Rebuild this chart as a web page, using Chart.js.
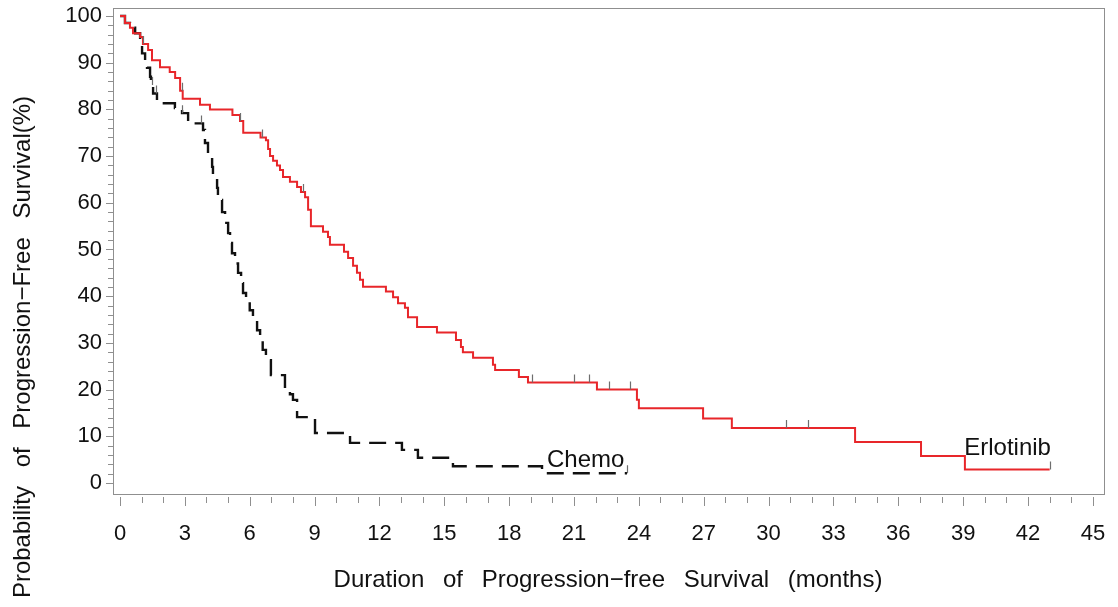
<!DOCTYPE html>
<html>
<head>
<meta charset="utf-8">
<script src="https://cdn.jsdelivr.net/npm/chart.js@4.4.1/dist/chart.umd.min.js"></script>
<style>
  html, body { margin: 0; padding: 0; background: #fff; }
  .wrap { width: 1118px; height: 607px; }
</style>
</head>
<body>
<div class="wrap"><canvas id="km" width="1118" height="607"></canvas></div>
<script>
  // Erlotinib arm: time of each drop (months) and survival (%) after it
  const erlotTimes = [0, 0.23, 0.46, 0.6, 0.93, 1.06, 1.3, 1.48, 1.85, 2.3,
    2.55, 2.78, 2.9, 3.7, 4.16, 5.2, 5.55, 5.7, 6.5, 6.75,
    6.85, 6.94, 7.08, 7.26, 7.4, 7.54, 7.86, 8.19, 8.37, 8.56,
    8.7, 8.83, 9.39, 9.62, 9.71, 10.36, 10.55, 10.78, 10.96, 11.1,
    11.24, 12.3, 12.63, 12.86, 13.18, 13.32, 13.74, 14.66, 15.54, 15.77,
    15.86, 16.33, 17.25, 17.35, 18.45, 18.87, 22.06, 23.91, 24.0, 26.97,
    28.3, 34.0, 37.05, 39.08, 43.0];
  const erlotSurv = [100, 98.5, 97.5, 96.3, 95.5, 94, 92.7, 90.5, 89, 88,
    86.7, 84, 82.3, 81, 80, 78.8, 77.5, 75, 74, 73.4,
    71.5, 70, 69, 68, 67, 65.5, 64.5, 63.4, 62.3, 61.2,
    58.5, 55, 53.8, 52.7, 51, 49.5, 48.2, 46.5, 45, 43.5,
    42, 41, 39.8, 38.5, 37.5, 35.5, 33.4, 32.2, 30.6, 29.1,
    28, 26.8, 25.3, 24.2, 22.7, 21.5, 20, 17.8, 16, 13.8,
    11.8, 8.8, 5.8, 2.9, 2.9];
  const erlotCensor = [1.06, 2.85, 5.55, 6.56, 8.46, 19.05, 20.98, 21.67, 22.6, 23.6, 30.8, 31.8, 43.0];

  // Chemotherapy arm
  const chemoTimes = [0, 0.23, 0.46, 0.7, 0.93, 1.02, 1.16, 1.25, 1.39, 1.43,
    1.53, 1.71, 2.54, 2.87, 3.15, 3.84, 3.93, 4.07, 4.26, 4.3,
    4.49, 4.53, 4.72, 4.86, 5.0, 5.09, 5.18, 5.32, 5.46, 5.6,
    5.69, 5.83, 6.0, 6.15, 6.34, 6.48, 6.6, 6.75, 6.98, 7.63,
    7.86, 8.0, 8.19, 9.02, 10.64, 13.04, 13.78, 15.4, 19.52, 23.45];
  const chemoSurv = [100, 98.5, 97.5, 96.3, 94.2, 92, 90.5, 88.9, 87, 85.2,
    83.4, 81.3, 80.3, 79.2, 77, 75.6, 72.8, 69.8, 67.7, 65.5,
    63.2, 60.6, 58, 55.7, 53.5, 51.4, 49.2, 47, 45, 42.8,
    40.7, 39, 37, 35, 32.7, 30.6, 28.5, 26.3, 23.1, 20.6,
    19, 17.8, 14.1, 10.7, 8.6, 7.1, 5.4, 3.6, 2.1, 2.1];
  const chemoCensor = [1.5, 1.65, 2.87, 3.75, 23.45];

  const xTickLabels = [0, 3, 6, 9, 12, 15, 18, 21, 24, 27, 30, 33, 36, 39, 42, 45];
  const yTickLabels = [0, 10, 20, 30, 40, 50, 60, 70, 80, 90, 100];
  const xTitle = 'Duration of Progression\u2212free Survival (months)';
  const yTitle = 'Probability of Progression\u2212Free Survival(%)';

  const FONT = '"Liberation Sans", Arial, sans-serif';

  const xMinor = [];
  for (let v = 0; v <= 45; v++) xMinor.push(v);
  const yMinor = [];
  for (let v = 0; v <= 100; v += 2) yMinor.push(v);

  function stepPoints(times, surv) {
    return times.map((t, i) => ({ x: t, y: surv[i] }));
  }

  function levelAt(times, surv, t) {
    let v = surv[0];
    for (let i = 0; i < times.length; i++) {
      if (times[i] <= t) v = surv[i];
    }
    return v;
  }

  function spacedText(ctx, text, target, cx, cy) {
    const n = text.split(' ').length - 1;
    ctx.wordSpacing = '0px';
    const w = ctx.measureText(text).width;
    const extra = Math.max(0, Math.min(12, (target - w) / n));
    ctx.wordSpacing = extra + 'px';
    ctx.fillText(text, cx, cy);
    ctx.wordSpacing = '0px';
  }

  const kmExtras = {
    id: 'kmExtras',
    afterDatasetsDraw(chart) {
      const { ctx, chartArea: a, scales: { x, y } } = chart;
      ctx.save();

      // frame round the plot
      ctx.strokeStyle = '#8f8f8f';
      ctx.lineWidth = 1;
      ctx.strokeRect(a.left + 0.5, a.top + 0.5, a.right - a.left - 1, a.bottom - a.top);

      // tick marks
      ctx.beginPath();
      xMinor.forEach(v => {
        const px = Math.round(x.getPixelForValue(v)) + 0.5;
        const len = v % 3 === 0 ? 9 : 6;
        ctx.moveTo(px, a.bottom + 3);
        ctx.lineTo(px, a.bottom + 3 + len);
      });
      yMinor.forEach(v => {
        const py = Math.round(y.getPixelForValue(v)) + 0.5;
        const len = v % 10 === 0 ? 7 : 5;
        ctx.moveTo(a.left, py);
        ctx.lineTo(a.left - len, py);
      });
      ctx.stroke();

      // censor marks
      ctx.strokeStyle = '#6e6e6e';
      ctx.lineWidth = 1.2;
      ctx.beginPath();
      erlotCensor.forEach(t => {
        const px = Math.round(x.getPixelForValue(t)) + 0.5;
        const py = y.getPixelForValue(levelAt(erlotTimes, erlotSurv, t));
        ctx.moveTo(px, py);
        ctx.lineTo(px, py - 8);
      });
      chemoCensor.forEach(t => {
        const px = Math.round(x.getPixelForValue(t)) + 0.5;
        const py = y.getPixelForValue(levelAt(chemoTimes, chemoSurv, t));
        ctx.moveTo(px, py);
        ctx.lineTo(px, py - 8);
      });
      ctx.stroke();

      // curve labels
      ctx.fillStyle = '#111';
      ctx.font = '24px ' + FONT;
      ctx.textAlign = 'left';
      ctx.textBaseline = 'alphabetic';
      ctx.fillText('Chemo', x.getPixelForValue(19.75), y.getPixelForValue(3.4));
      ctx.fillText('Erlotinib', x.getPixelForValue(39.05), y.getPixelForValue(6.0));

      // axis titles
      ctx.font = '24px ' + FONT;
      ctx.textAlign = 'center';
      ctx.textBaseline = 'middle';
      spacedText(ctx, xTitle, 552, 608, 580);
      ctx.translate(23, 347);
      ctx.rotate(-Math.PI / 2);
      spacedText(ctx, yTitle, 505, 0, 0);

      ctx.restore();
    }
  };

  new Chart(document.getElementById('km'), {
    type: 'line',
    data: {
      datasets: [
        {
          label: 'Erlotinib',
          data: stepPoints(erlotTimes, erlotSurv),
          stepped: true,
          borderColor: '#e8262a',
          borderWidth: 2,
          pointRadius: 0,
          fill: false
        },
        {
          label: 'Chemo',
          data: stepPoints(chemoTimes, chemoSurv),
          stepped: true,
          borderColor: '#111',
          borderWidth: 2.4,
          borderDash: [17, 9],
          pointRadius: 0,
          fill: false
        }
      ]
    },
    options: {
      responsive: false,
      animation: false,
      events: [],
      layout: { padding: { top: 8, right: 13, left: 0, bottom: 0 } },
      plugins: { legend: { display: false }, tooltip: { enabled: false } },
      scales: {
        x: {
          type: 'linear',
          min: -0.324,
          max: 45.56,
          afterBuildTicks: s => { s.ticks = xMinor.map(v => ({ value: v })); },
          afterFit: s => { s.height = 113; s.paddingLeft = 0; s.paddingRight = 0; },
          ticks: {
            autoSkip: false,
            maxRotation: 0,
            padding: 27,
            color: '#111',
            font: { family: FONT, size: 22 },
            callback: v => xTickLabels.includes(v) ? String(v) : ''
          },
          grid: { display: false, drawTicks: false },
          border: { display: false }
        },
        y: {
          min: -2.355,
          max: 101.71,
          afterBuildTicks: s => { s.ticks = yMinor.map(v => ({ value: v })); },
          afterFit: s => { s.width = 113; s.paddingTop = 0; s.paddingBottom = 0; },
          ticks: {
            autoSkip: false,
            padding: 11,
            color: '#111',
            font: { family: FONT, size: 22 },
            callback: v => yTickLabels.includes(v) ? String(v) : ''
          },
          grid: { display: false, drawTicks: false },
          border: { display: false }
        }
      }
    },
    plugins: [kmExtras]
  });
</script>
</body>
</html>
